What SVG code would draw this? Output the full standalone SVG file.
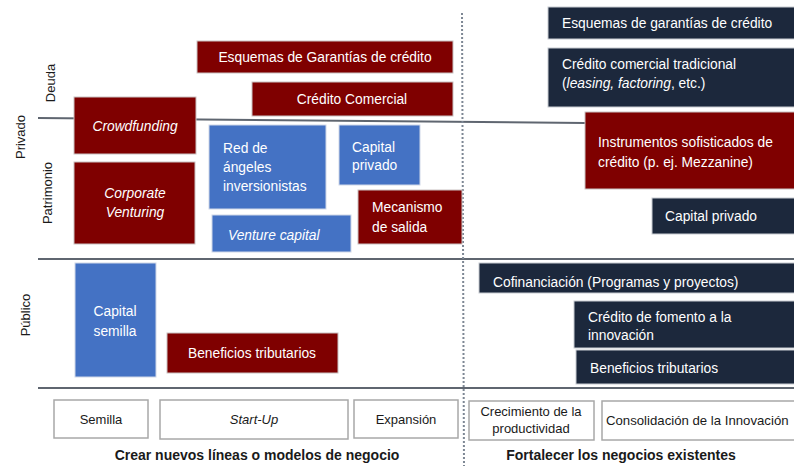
<svg xmlns="http://www.w3.org/2000/svg" width="794" height="466" viewBox="0 0 794 466">
<style>
text{font-family:"Liberation Sans",Arial,sans-serif;font-size:13px}
.w{fill:#ffffff;font-size:13.8px}
.d{fill:#1a1a1a}
.i{font-style:italic}
.c{text-anchor:middle}
.red{fill:#7f0000;stroke:#c9c2c2;stroke-width:1}
.blue{fill:#4472c4;stroke:#d0d8e8;stroke-width:1}
.navy{fill:#1c283c;stroke:#c8ccd2;stroke-width:1}
.stage{fill:#ffffff;stroke:#a8a8a8;stroke-width:1.5}
.ax{stroke:#5f6670;stroke-width:2;fill:none}
.lbl{font-size:13px;fill:#1a1a1a}
.b{font-weight:bold;font-size:14px}
.fit{font-size:13.2px}
</style>
<rect width="794" height="466" fill="#ffffff"/>
<g id="axes">
<line class="ax" x1="38" y1="118" x2="585" y2="123" stroke-width="1.5"/>
<line class="ax" x1="38" y1="259" x2="794" y2="259"/>
<line class="ax" x1="38" y1="388" x2="794" y2="388"/>
<line x1="462" y1="13" x2="464" y2="466" stroke="#7d8794" stroke-width="2" stroke-dasharray="2,2"/>
</g>
<g id="labels">
<text class="lbl c" transform="translate(55,83) rotate(-90)">Deuda</text>
<text class="lbl c" transform="translate(25,137) rotate(-90)">Privado</text>
<text class="lbl c" transform="translate(52,193) rotate(-90)">Patrimonio</text>
<text class="lbl c" transform="translate(30,315) rotate(-90)">Público</text>
</g>
<g id="n-esquemas-garantias"><rect class="red" x="197" y="41" width="256" height="32"/><text class="w c" x="325" y="62">Esquemas de Garantías de crédito</text></g>
<g id="n-credito-comercial"><rect class="red" x="252" y="82" width="201" height="34"/><text class="w c" x="352" y="104">Crédito Comercial</text></g>
<g id="n-crowdfunding"><rect class="red" x="74" y="97" width="122" height="57"/><text class="w c i" x="135" y="131">Crowdfunding</text></g>
<g id="n-corporate-venturing"><rect class="red" x="74" y="162" width="121" height="82"/><text class="w c i" x="135" y="198">Corporate</text><text class="w c i" x="135" y="217">Venturing</text></g>
<g id="n-red-angeles"><rect class="blue" x="209" y="125" width="117" height="84"/><text class="w" x="223" y="153">Red de</text><text class="w" x="223" y="172">ángeles</text><text class="w" x="223" y="191">inversionistas</text></g>
<g id="n-capital-privado-blue"><rect class="blue" x="339" y="125" width="81" height="60"/><text class="w" x="352" y="152">Capital</text><text class="w" x="352" y="170">privado</text></g>
<g id="n-mecanismo-salida"><rect class="red" x="358" y="190" width="104" height="54"/><text class="w" x="372" y="212">Mecanismo</text><text class="w" x="372" y="232">de salida</text></g>
<g id="n-venture-capital"><rect class="blue" x="212" y="215" width="139" height="37"/><text class="w i" x="228" y="240">Venture capital</text></g>
<g id="n-capital-semilla"><rect class="blue" x="75" y="263" width="81" height="114"/><text class="w c" x="115" y="316">Capital</text><text class="w c" x="115" y="336">semilla</text></g>
<g id="n-beneficios-tributarios-red"><rect class="red" x="167" y="333" width="171" height="40"/><text class="w c" x="252" y="358">Beneficios tributarios</text></g>
<g id="n-esquemas-garantias-navy"><rect class="navy" x="548" y="7" width="250" height="32"/><text class="w" x="562" y="28">Esquemas de garantías de crédito</text></g>
<g id="n-credito-comercial-tradicional"><rect class="navy" x="548" y="48" width="250" height="59"/><text class="w" x="562" y="69">Crédito comercial tradicional</text><text class="w" x="562" y="88">(<tspan class="i">leasing, factoring</tspan>, etc.)</text></g>
<g id="n-instrumentos-sofisticados"><rect class="red" x="585" y="112" width="213" height="77"/><text class="w" x="598" y="147">Instrumentos sofisticados de</text><text class="w" x="598" y="167">crédito (p. ej. Mezzanine)</text></g>
<g id="n-capital-privado-navy"><rect class="navy" x="652" y="198" width="146" height="36"/><text class="w" x="665" y="221">Capital privado</text></g>
<g id="n-cofinanciacion"><rect class="navy" x="479" y="263" width="319" height="30"/><text class="w" x="493" y="287">Cofinanciación (Programas y proyectos)</text></g>
<g id="n-credito-fomento"><rect class="navy" x="574" y="301" width="224" height="47"/><text class="w" x="588" y="322">Crédito de fomento a la</text><text class="w" x="588" y="340">innovación</text></g>
<g id="n-beneficios-tributarios-navy"><rect class="navy" x="576" y="350" width="222" height="34"/><text class="w" x="590" y="373">Beneficios tributarios</text></g>
<g id="n-semilla"><rect class="stage" x="54" y="400" width="94" height="38"/><text class="d c" x="101" y="424">Semilla</text></g>
<g id="n-startup"><rect class="stage" x="160" y="400" width="188" height="39"/><text class="d c i" x="254" y="424">Start-Up</text></g>
<g id="n-expansion"><rect class="stage" x="354" y="400" width="104" height="38"/><text class="d c" x="406" y="424">Expansión</text></g>
<g id="n-crecimiento"><rect class="stage" x="469" y="401" width="125" height="39"/><text class="d c" x="531" y="416">Crecimiento de la</text><text class="d c" x="531" y="433">productividad</text></g>
<g id="n-consolidacion"><rect class="stage" x="602" y="401" width="200" height="39"/><text class="d fit" x="606" y="425">Consolidación de la Innovación</text></g>
<g id="footer">
<text class="d c b" x="257" y="460">Crear nuevos líneas o modelos de negocio</text>
<text class="d c b" x="621" y="460">Fortalecer los negocios existentes</text>
</g>
</svg>
